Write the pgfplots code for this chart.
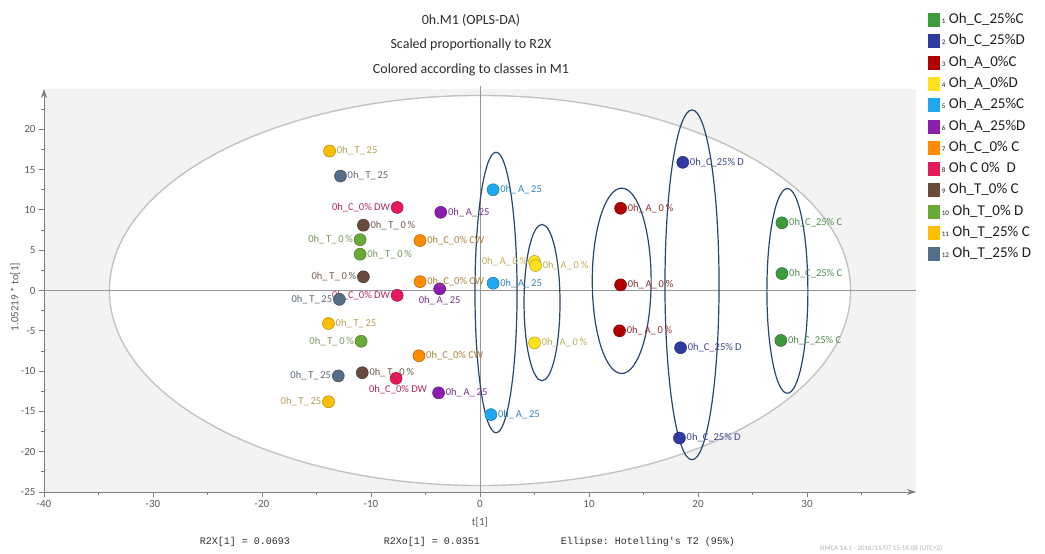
\documentclass[border=0pt]{standalone}
\usepackage{fontspec}
\setmainfont{Carlito}
\setmonofont{Liberation Mono}
\usepackage{pgfplots}
\pgfplotsset{compat=1.18}
\usetikzlibrary{arrows.meta}

\definecolor{bggray}{RGB}{243,243,243}
\definecolor{hotgray}{RGB}{195,195,195}
\definecolor{centergray}{RGB}{150,150,150}
\definecolor{axisgray}{RGB}{125,125,125}
\definecolor{ticktext}{RGB}{90,90,90}
\definecolor{ellblue}{RGB}{40,70,110}
\definecolor{titlegray}{RGB}{45,45,45}
\definecolor{legtext}{RGB}{30,30,30}

\definecolor{c1}{RGB}{61,155,61}
\definecolor{c2}{RGB}{46,58,160}
\definecolor{c3}{RGB}{176,0,0}
\definecolor{c4}{RGB}{255,225,30}
\definecolor{c5}{RGB}{30,168,240}
\definecolor{c6}{RGB}{140,30,175}
\definecolor{c7}{RGB}{255,140,0}
\definecolor{c8}{RGB}{230,25,90}
\definecolor{c9}{RGB}{105,75,60}
\definecolor{c10}{RGB}{105,170,55}
\definecolor{c11}{RGB}{255,190,0}
\definecolor{c12}{RGB}{85,110,135}

\definecolor{l1}{RGB}{80,140,80}
\definecolor{l2}{RGB}{60,70,140}
\definecolor{l3}{RGB}{140,50,50}
\definecolor{l4}{RGB}{190,175,90}
\definecolor{l5}{RGB}{50,130,190}
\definecolor{l6}{RGB}{120,50,140}
\definecolor{l7}{RGB}{170,130,60}
\definecolor{l8}{RGB}{180,40,90}
\definecolor{l9}{RGB}{110,90,80}
\definecolor{l10}{RGB}{120,150,90}
\definecolor{l11}{RGB}{180,160,90}
\definecolor{l12}{RGB}{90,105,125}

\newcommand\lblfont{\fontsize{10.5}{11}\selectfont}

\pgfplotsset{
  cls/.style n args={3}{
    only marks, mark=*, mark size=6pt, color=#1,
    mark options={draw=#1!70!black, line width=0.5pt},
    forget plot,
    nodes near coords={#3},
    visualization depends on={value \thisrow{a}\as\nodeanch},
    visualization depends on={value \thisrow{dx}\as\nodedx},
    visualization depends on={value \thisrow{dy}\as\nodedy},
    every node near coord/.append style={anchor=\nodeanch, xshift=\nodedx pt, yshift=\nodedy pt,
      font=\lblfont, text=#2, inner sep=0.5pt},
  },
}

\begin{document}
\begin{tikzpicture}[x=1pt,y=1pt]
\path[use as bounding box] (0,0) rectangle (1045,554);
\begin{axis}[
  at={(44pt,62pt)}, anchor=south west, scale only axis,
  width=872pt, height=403pt,
  xmin=-40, xmax=40, ymin=-25, ymax=25,
  axis lines=left,
  axis line style={draw=axisgray, line width=0.9pt, -{Stealth[length=9pt,width=6pt]}},
  axis background/.style={fill=bggray},
  clip=false,
  xtick={-40,-30,...,30}, minor xtick={-35,-25,...,35},
  ytick={-25,-20,...,20}, minor ytick={-22.5,-17.5,...,22.5},
  tick align=outside, major tick length=5pt, minor tick length=3pt,
  tick style={axisgray, line width=0.8pt},
  ticklabel style={font=\fontsize{11}{12}\selectfont, text=ticktext},
  /pgf/number format/assume math mode=true,
  xlabel={t[1]}, ylabel={1.05219 * to[1]},
  label style={font=\fontsize{11}{13}\selectfont, text=ticktext},
  xlabel style={at={(axis description cs:0.5,-0.075)}, anchor=center},
  ylabel style={at={(axis description cs:-0.033,0.484)}, anchor=center},
  legend style={at={(1.0138,1.196)}, anchor=north west, draw=none, fill=none,
    font=\fontsize{15}{17}\selectfont, text=legtext, row sep=1.8pt,
    inner sep=0pt, outer sep=0pt,
    nodes={inner sep=2.5pt, text height=11pt, text depth=3.5pt}},
  legend cell align=left,
  legend image code/.code={\fill[#1] (0pt,-6.5pt) rectangle (11pt,6.5pt);},
]
% Hotelling T2 ellipse
\draw[hotgray, line width=1.4pt, fill=white] (axis cs:0,0) ellipse [x radius=34, y radius=24.2];
% centre lines
\draw[centergray, line width=1.2pt] (axis cs:-40,0) -- (axis cs:40,0);
\draw[centergray, line width=1pt] (axis cs:0,-25) -- (axis cs:0,25.4);
% class ellipses
\draw[ellblue, line width=1.2pt] (axis cs:1.47,-0.25) ellipse [x radius=1.93, y radius=17.4];
\draw[ellblue, line width=1.2pt] (axis cs:5.69,-1.5) ellipse [x radius=1.65, y radius=9.7];
\draw[ellblue, line width=1.2pt] (axis cs:13.0,1.2) ellipse [x radius=2.7, y radius=11.5];
\draw[ellblue, line width=1.2pt] (axis cs:19.45,0.7) ellipse [x radius=2.48, y radius=21.7];
\draw[ellblue, line width=1.2pt] (axis cs:28.2,-0.05) ellipse [x radius=1.88, y radius=12.7];

\addplot[cls={c1}{l1}{0h\_C\_25\% C}] table {
x y a dx dy
27.7 8.4 west 6.5 0
27.7 2.1 west 6.5 0
27.6 -6.2 west 6.5 0
};
\addplot[cls={c2}{l2}{0h\_C\_25\% D}] table {
x y a dx dy
18.6 15.9 west 6.5 0
18.4 -7.1 west 6.5 0
18.3 -18.3 west 6.5 0
};
\addplot[cls={c3}{l3}{0h\_\,A\_\,0\,\%}] table {
x y a dx dy
12.9 10.2 west 6.5 0
12.9 0.7 west 6.5 0
12.8 -5.0 west 6.5 0
};
\addplot[cls={c4}{l4}{0h\_\,A\_\,0\,\%}] table {
x y a dx dy
5.0 3.6 east -6.5 0
5.1 3.1 west 6.5 0
5.0 -6.5 west 6.5 0
};
\addplot[cls={c5}{l5}{0h\_\,A\_\,25}] table {
x y a dx dy
1.2 12.5 west 6.5 0
1.2 0.9 west 6.5 0
1.0 -15.4 west 6.5 0
};
\addplot[cls={c6}{l6}{0h\_\,A\_\,25}] table {
x y a dx dy
-3.6 9.7 west 6.5 0
-3.7 0.2 north 0 -7
-3.8 -12.7 west 6.5 0
};
\addplot[cls={c7}{l7}{0h\_C\_0\% CW}] table {
x y a dx dy
-5.5 6.2 west 6.5 0
-5.5 1.1 west 6.5 0
-5.6 -8.1 west 6.5 0
};
\addplot[cls={c8}{l8}{0h\_C\_0\% DW}] table {
x y a dx dy
-7.6 10.3 east -6.5 0
-7.6 -0.6 east -6.5 0
-7.7 -10.9 north 2 -6.5
};
\addplot[cls={c9}{l9}{0h\_\,T\_\,0\,\%}] table {
x y a dx dy
-10.7 8.1 west 6.5 0
-10.7 1.7 east -6.5 0
-10.8 -10.2 west 6.5 0
};
\addplot[cls={c10}{l10}{0h\_\,T\_\,0\,\%}] table {
x y a dx dy
-11.0 6.3 east -6.5 0
-11.0 4.5 west 6.5 0
-10.9 -6.3 east -6.5 0
};
\addplot[cls={c11}{l11}{0h\_\,T\_\,25}] table {
x y a dx dy
-13.8 17.3 west 6.5 0
-13.9 -4.1 west 6.5 0
-13.9 -13.8 east -6.5 0
};
\addplot[cls={c12}{l12}{0h\_\,T\_\,25}] table {
x y a dx dy
-12.8 14.2 west 6.5 0
-12.9 -1.1 east -6.5 0
-13.0 -10.6 east -6.5 0
};

\addlegendimage{c1}\addlegendentry{{\fontsize{7}{8}\selectfont 1} Oh\_C\_25\%C}
\addlegendimage{c2}\addlegendentry{{\fontsize{7}{8}\selectfont 2} Oh\_C\_25\%D}
\addlegendimage{c3}\addlegendentry{{\fontsize{7}{8}\selectfont 3} Oh\_A\_0\%C}
\addlegendimage{c4}\addlegendentry{{\fontsize{7}{8}\selectfont 4} Oh\_A\_0\%D}
\addlegendimage{c5}\addlegendentry{{\fontsize{7}{8}\selectfont 5} Oh\_A\_25\%C}
\addlegendimage{c6}\addlegendentry{{\fontsize{7}{8}\selectfont 6} Oh\_A\_25\%D}
\addlegendimage{c7}\addlegendentry{{\fontsize{7}{8}\selectfont 7} Oh\_C\_0\% C}
\addlegendimage{c8}\addlegendentry{{\fontsize{7}{8}\selectfont 8} Oh\ C\ 0\%\ \ D}
\addlegendimage{c9}\addlegendentry{{\fontsize{7}{8}\selectfont 9} Oh\_T\_0\% C}
\addlegendimage{c10}\addlegendentry{{\fontsize{7}{8}\selectfont 10} Oh\_T\_0\% D}
\addlegendimage{c11}\addlegendentry{{\fontsize{7}{8}\selectfont 11} Oh\_T\_25\% C}
\addlegendimage{c12}\addlegendentry{{\fontsize{7}{8}\selectfont 12} Oh\_T\_25\% D}
\end{axis}

% titles
\node[font=\fontsize{14}{16}\selectfont, text=titlegray] at (471,534) {0h.M1 (OPLS-DA)};
\node[font=\fontsize{14}{16}\selectfont, text=titlegray] at (471,509) {Scaled proportionally to R2X};
\node[font=\fontsize{14}{16}\selectfont, text=titlegray] at (471,484) {Colored according to classes in M1};
% footer
\node[font=\ttfamily\fontsize{10}{11}\selectfont, text=titlegray] at (245,12) {R2X[1] = 0.0693};
\node[font=\ttfamily\fontsize{10}{11}\selectfont, text=titlegray] at (432,12) {R2Xo[1] = 0.0351};
\node[font=\ttfamily\fontsize{10}{11}\selectfont, text=titlegray] at (648,12) {Ellipse: Hotelling's T2 (95\%)};
\node[font=\fontsize{7}{8}\selectfont, text=gray!60, anchor=west] at (816,6) {SIMCA 14.1 - 2016/11/07 15:18:08 (UTC+2)};
\end{tikzpicture}
\end{document}
